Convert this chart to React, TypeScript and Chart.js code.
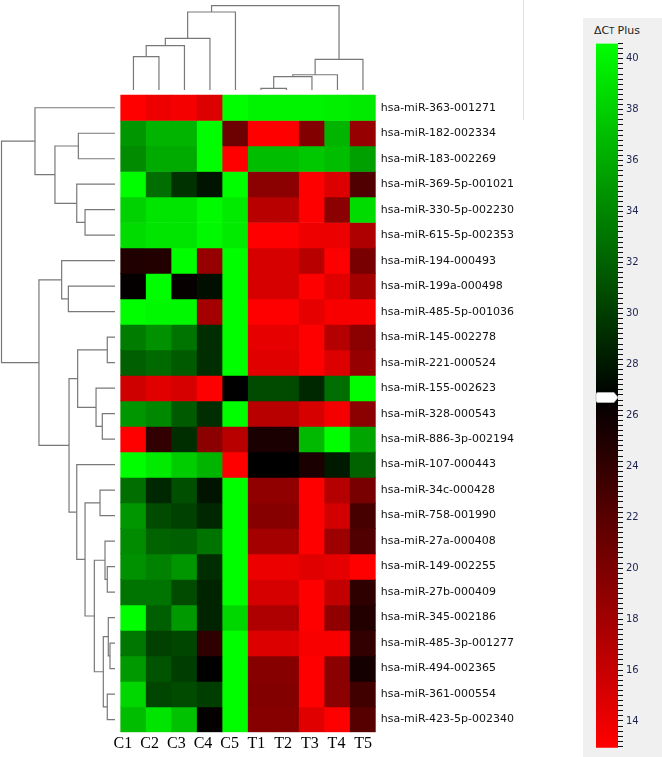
import React, { useEffect, useRef } from "react";
import { Chart, registerables } from "chart.js";

Chart.register(...registerables);

// ---------- data ----------
const colLabels = ["C1", "C2", "C3", "C4", "C5", "T1", "T2", "T3", "T4", "T5"];

const rowLabels = [
  "hsa-miR-363-001271",
  "hsa-miR-182-002334",
  "hsa-miR-183-002269",
  "hsa-miR-369-5p-001021",
  "hsa-miR-330-5p-002230",
  "hsa-miR-615-5p-002353",
  "hsa-miR-194-000493",
  "hsa-miR-199a-000498",
  "hsa-miR-485-5p-001036",
  "hsa-miR-145-002278",
  "hsa-miR-221-000524",
  "hsa-miR-155-002623",
  "hsa-miR-328-000543",
  "hsa-miR-886-3p-002194",
  "hsa-miR-107-000443",
  "hsa-miR-34c-000428",
  "hsa-miR-758-001990",
  "hsa-miR-27a-000408",
  "hsa-miR-149-002255",
  "hsa-miR-27b-000409",
  "hsa-miR-345-002186",
  "hsa-miR-485-3p-001277",
  "hsa-miR-494-002365",
  "hsa-miR-361-000554",
  "hsa-miR-423-5p-002340",
];

// ΔCt values per miRNA, columns C1..C5, T1..T5
const deltaCt = [
  [13.0, 13.8, 13.5, 14.8, 40.5, 40.0, 40.0, 40.0, 39.8, 39.5],
  [34.9, 36.5, 36.5, 40.5, 20.8, 13.0, 13.0, 19.7, 36.5, 18.6],
  [34.3, 36.0, 36.0, 40.5, 13.0, 37.0, 37.0, 37.6, 37.0, 35.4],
  [40.5, 32.7, 29.4, 27.8, 40.5, 19.2, 19.2, 13.0, 14.8, 22.4],
  [38.1, 39.2, 39.2, 40.4, 39.5, 16.7, 16.7, 13.0, 19.2, 38.7],
  [38.7, 39.2, 39.2, 40.3, 39.5, 13.0, 13.0, 13.8, 14.0, 17.3],
  [25.0, 24.8, 40.5, 18.6, 40.5, 15.1, 15.1, 16.7, 13.0, 20.2],
  [26.5, 40.5, 26.4, 27.5, 40.5, 15.1, 15.1, 13.0, 14.6, 17.8],
  [40.5, 40.2, 40.2, 17.8, 40.5, 13.0, 13.0, 14.3, 13.3, 13.3],
  [33.5, 34.6, 33.0, 29.2, 40.5, 14.3, 14.3, 13.0, 17.0, 19.2],
  [31.9, 32.4, 31.6, 29.2, 40.5, 14.6, 14.6, 13.0, 14.8, 18.6],
  [15.6, 14.6, 15.1, 13.0, 26.7, 30.8, 30.8, 28.9, 32.7, 40.5],
  [34.9, 34.1, 31.6, 29.2, 40.5, 16.7, 16.7, 15.1, 13.5, 19.2],
  [13.0, 24.0, 29.2, 19.2, 16.7, 25.3, 25.3, 36.8, 40.5, 35.7],
  [40.5, 39.5, 37.9, 36.5, 13.0, 26.7, 26.7, 25.3, 28.1, 32.1],
  [32.7, 28.9, 31.0, 27.8, 40.5, 18.9, 18.9, 13.0, 17.0, 20.2],
  [34.9, 30.8, 30.2, 28.9, 40.5, 19.4, 19.4, 13.0, 15.4, 22.9],
  [34.3, 32.1, 31.9, 33.0, 40.5, 17.8, 17.8, 13.0, 18.3, 22.4],
  [34.6, 33.8, 34.9, 29.2, 40.5, 14.0, 14.0, 14.6, 14.3, 13.0],
  [33.0, 33.0, 30.8, 28.6, 40.5, 15.1, 15.1, 13.0, 16.2, 24.2],
  [40.5, 31.9, 35.1, 28.6, 38.4, 17.3, 17.3, 13.0, 18.9, 24.8],
  [33.2, 30.2, 30.5, 24.2, 40.5, 14.8, 14.8, 13.3, 13.3, 24.0],
  [35.1, 31.3, 30.0, 26.7, 40.5, 19.4, 19.4, 13.0, 19.2, 25.6],
  [38.4, 30.5, 30.8, 30.0, 40.5, 19.7, 19.7, 13.0, 19.2, 23.2],
  [37.0, 39.2, 37.3, 26.5, 40.5, 19.4, 19.4, 14.6, 13.0, 22.0],
];

// hierarchical clustering merges: [nodeA, nodeB, distance]; leaves 0..n-1, merged nodes n, n+1, ...
const rowLinkage: [number, number, number][] = [
  [1, 2, 0.323],
  [4, 5, 0.264],
  [3, 26, 0.337],
  [25, 27, 0.529],
  [0, 28, 0.705],
  [7, 8, 0.411],
  [6, 30, 0.47],
  [9, 10, 0.068],
  [12, 13, 0.112],
  [11, 33, 0.167],
  [32, 34, 0.329],
  [15, 16, 0.132],
  [18, 19, 0.068],
  [17, 37, 0.088],
  [21, 22, 0.044],
  [20, 39, 0.059],
  [23, 24, 0.068],
  [40, 41, 0.103],
  [38, 42, 0.182],
  [36, 43, 0.264],
  [14, 44, 0.337],
  [35, 45, 0.405],
  [31, 46, 0.67],
  [29, 47, 1.0],
];

const colLinkage: [number, number, number][] = [
  [0, 1, 0.395],
  [10, 2, 0.526],
  [11, 3, 0.613],
  [12, 4, 0.925],
  [5, 6, 0.02],
  [14, 7, 0.158],
  [15, 8, 0.181],
  [16, 9, 0.364],
  [13, 17, 1.0],
];

// colour scale (ΔCt Plus)
const scaleMin = 12.95;
const scaleMid = 26.7;
const scaleMax = 40.6;
const scaleMarker = 26.7;
const scaleLabels = [14, 16, 18, 20, 22, 24, 26, 28, 30, 32, 34, 36, 38, 40];
const scaleMinorStep = 0.2;

// ---------- layout (pixels) ----------
const MAIN_W = 580;
const H = 757;
const AREA_RIGHT = 375.7;
const AREA_BOTTOM = 732.3;
const HEAT_LEFT = 120.7;
const HEAT_TOP = 95;
const ROW_LEAF_X = 115;
const ROW_ROOT_X = 1.5;
const COL_LEAF_Y = 90;
const COL_ROOT_Y = 5.7;
const LABEL_X0 = 122.9;
const LABEL_DX = 26.7;

const nCols = colLabels.length;
const nRows = rowLabels.length;
const colW = (AREA_RIGHT - HEAT_LEFT) / nCols;
const rowH = (AREA_BOTTOM - HEAT_TOP) / nRows;
const X_MIN = -HEAT_LEFT / colW;
const Y_MIN = -HEAT_TOP / rowH;
const xdPx = ROW_LEAF_X - ROW_ROOT_X;
const XD_MAX = ROW_LEAF_X / xdPx;
const XD_MIN = XD_MAX - AREA_RIGHT / xdPx;
const ydPx = COL_LEAF_Y - COL_ROOT_Y;
const YD_MAX = COL_LEAF_Y / ydPx;
const YD_MIN = YD_MAX - AREA_BOTTOM / ydPx;
const XL_MIN = -LABEL_X0 / LABEL_DX;
const XL_MAX = XL_MIN + AREA_RIGHT / LABEL_DX;

function clamp01(t: number) {
  return Math.max(0, Math.min(1, t));
}

function ctColor(v: number) {
  if (v <= scaleMid) {
    const t = clamp01((scaleMid - v) / (scaleMid - scaleMin));
    return `rgb(${Math.round(255 * t)},0,0)`;
  }
  const t = clamp01((v - scaleMid) / (scaleMax - scaleMid));
  return `rgb(0,${Math.round(255 * t)},0)`;
}

function dendroSegments(linkage: [number, number, number][], n: number) {
  const pos: number[] = [];
  const hgt: number[] = [];
  for (let i = 0; i < n; i++) {
    pos[i] = i + 0.5;
    hgt[i] = 0;
  }
  const segs: { h: number; p: number }[][] = [];
  linkage.forEach(([a, b, h], k) => {
    const id = n + k;
    pos[id] = (pos[a] + pos[b]) / 2;
    hgt[id] = h;
    segs.push([
      { h: hgt[a], p: pos[a] },
      { h, p: pos[a] },
      { h, p: pos[b] },
      { h: hgt[b], p: pos[b] },
    ]);
  });
  return segs;
}

export default function App() {
  const mainRef = useRef<HTMLCanvasElement>(null);
  const barRef = useRef<HTMLCanvasElement>(null);

  useEffect(() => {
    document.body.style.margin = "0";

    const lineStyle = {
      borderColor: "#787878",
      borderWidth: 1.2,
      pointRadius: 0,
      fill: false,
      tension: 0,
    };

    const rowSegs = dendroSegments(rowLinkage, nRows);
    const colSegs = dendroSegments(colLinkage, nCols);

    const datasets: any[] = [
      ...deltaCt.map((vals, r) => ({
        type: "bar",
        data: vals.map((_v, j) => ({ x: j + 0.5, y: [r, r + 1] })),
        backgroundColor: vals.map(ctColor),
        borderWidth: 0,
        grouped: false,
        barPercentage: 1,
        categoryPercentage: 1,
        xAxisID: "x",
        yAxisID: "y",
      })),
      ...rowSegs.map((seg) => ({
        type: "line",
        data: seg.map((s) => ({ x: s.h, y: s.p })),
        xAxisID: "xd",
        yAxisID: "y",
        ...lineStyle,
      })),
      ...colSegs.map((seg) => ({
        type: "line",
        data: seg.map((s) => ({ x: s.p, y: s.h })),
        xAxisID: "x",
        yAxisID: "yd",
        ...lineStyle,
      })),
    ];

    const main = new Chart(mainRef.current as HTMLCanvasElement, {
      type: "bar",
      data: { datasets },
      options: {
        animation: false,
        responsive: false,
        maintainAspectRatio: false,
        events: [],
        layout: { padding: 0 },
        plugins: { legend: { display: false }, tooltip: { enabled: false } },
        scales: {
          x: { type: "linear", display: false, min: X_MIN, max: nCols, offset: false },
          xl: {
            type: "linear",
            position: "bottom",
            min: XL_MIN,
            max: XL_MAX,
            offset: false,
            grid: { display: false, drawTicks: false },
            border: { display: false },
            afterBuildTicks: (s: any) => {
              s.ticks = colLabels.map((_c, j) => ({ value: j }));
            },
            afterFit: (s: any) => {
              s.height = H - AREA_BOTTOM;
              s.paddingLeft = 0;
              s.paddingRight = 0;
            },
            ticks: {
              autoSkip: false,
              maxRotation: 0,
              padding: 2,
              color: "#000",
              font: { family: '"Liberation Serif", serif', size: 16 },
              callback: (_v: any, i: number) => colLabels[i],
            },
          },
          xd: { type: "linear", display: false, reverse: true, min: XD_MIN, max: XD_MAX, offset: false },
          y: {
            type: "linear",
            position: "right",
            reverse: true,
            min: Y_MIN,
            max: nRows,
            grid: { display: false, drawTicks: false },
            border: { display: false },
            afterBuildTicks: (s: any) => {
              s.ticks = rowLabels.map((_r, i) => ({ value: i + 0.5 }));
            },
            afterFit: (s: any) => {
              s.width = MAIN_W - AREA_RIGHT;
              s.paddingTop = 0;
              s.paddingBottom = 0;
            },
            ticks: {
              autoSkip: false,
              padding: 5,
              color: "#111",
              font: { family: '"DejaVu Sans", sans-serif', size: 11 },
              callback: (_v: any, i: number) => rowLabels[i],
            },
          },
          yd: { type: "linear", display: false, min: YD_MIN, max: YD_MAX },
        },
      } as any,
    });

    const minorTicks: number[] = [];
    for (let k = Math.ceil(scaleMin / scaleMinorStep); k * scaleMinorStep <= scaleMax + 1e-9; k++) {
      minorTicks.push(Math.round(k * scaleMinorStep * 10) / 10);
    }

    const markerPlugin = {
      id: "marker",
      afterDatasetsDraw(chart: any) {
        const { ctx, chartArea, scales } = chart;
        const y = scales.y.getPixelForValue(scaleMarker);
        const l = chartArea.left;
        const r = chartArea.right;
        ctx.save();
        ctx.beginPath();
        ctx.moveTo(l + 2, y - 5);
        ctx.lineTo(r - 4, y - 5);
        ctx.lineTo(r, y);
        ctx.lineTo(r - 4, y + 5);
        ctx.lineTo(l + 2, y + 5);
        ctx.quadraticCurveTo(l, y + 5, l, y + 3);
        ctx.lineTo(l, y - 3);
        ctx.quadraticCurveTo(l, y - 5, l + 2, y - 5);
        ctx.closePath();
        ctx.fillStyle = "#ffffff";
        ctx.fill();
        ctx.strokeStyle = "#b5b5b5";
        ctx.lineWidth = 0.8;
        ctx.stroke();
        ctx.restore();
      },
    };

    const cb = new Chart(barRef.current as HTMLCanvasElement, {
      type: "bar",
      data: {
        labels: ["ΔCT Plus"],
        datasets: [
          {
            data: [[scaleMin, scaleMax]],
            backgroundColor: (c: any) => {
              const ch = c.chart;
              const ys = ch.scales && ch.scales.y;
              if (!ch.chartArea || !ys) return "#000";
              const y0 = ys.getPixelForValue(scaleMin);
              const y1 = ys.getPixelForValue(scaleMax);
              const g = ch.ctx.createLinearGradient(0, y0, 0, y1);
              g.addColorStop(0, "rgb(255,0,0)");
              g.addColorStop((scaleMid - scaleMin) / (scaleMax - scaleMin), "rgb(0,0,0)");
              g.addColorStop(1, "rgb(0,255,0)");
              return g;
            },
            borderWidth: 0,
            barPercentage: 1,
            categoryPercentage: 1,
          } as any,
        ],
      },
      options: {
        animation: false,
        responsive: false,
        maintainAspectRatio: false,
        events: [],
        layout: { padding: { left: 13, top: 43.5, bottom: H - 747.7, right: 0 } },
        plugins: { legend: { display: false }, tooltip: { enabled: false } },
        scales: {
          x: { display: false },
          y: {
            position: "right",
            min: scaleMin,
            max: scaleMax,
            grid: { drawOnChartArea: false, drawTicks: true, tickLength: 5, color: "#111", lineWidth: 1 },
            border: { display: false },
            afterBuildTicks: (s: any) => {
              s.ticks = minorTicks.map((v) => ({ value: v }));
            },
            afterFit: (s: any) => {
              s.width = 44;
              s.paddingTop = 0;
              s.paddingBottom = 0;
            },
            ticks: {
              autoSkip: false,
              padding: 3,
              color: "#1e2450",
              font: { family: '"DejaVu Sans", sans-serif', size: 10 },
              callback: (v: any) => {
                const n = Number(v);
                const hit = scaleLabels.find((L) => Math.abs(L - n) < 1e-6);
                return hit !== undefined ? String(hit) : "";
              },
            },
          },
        },
      } as any,
      plugins: [markerPlugin],
    });

    return () => {
      main.destroy();
      cb.destroy();
    };
  }, []);

  return (
    <div
      style={{
        position: "absolute",
        left: 0,
        top: 0,
        width: 662,
        height: H,
        background: "#fff",
        overflow: "hidden",
      }}
    >
      <div style={{ position: "absolute", left: 523, top: 0, width: 1, height: 120, background: "#e2e2e2" }} />
      <div style={{ position: "absolute", left: 583, top: 18, width: 79, height: H - 18, background: "#f0f0f0" }} />
      <div
        style={{
          position: "absolute",
          left: 594,
          top: 24,
          font: '11px "DejaVu Sans", sans-serif',
          lineHeight: "13px",
          color: "#222",
          whiteSpace: "nowrap",
        }}
      >
        ΔC<span style={{ fontSize: 8 }}>T</span> Plus
      </div>
      <canvas ref={mainRef} width={MAIN_W} height={H} style={{ position: "absolute", left: 0, top: 0 }} />
      <canvas ref={barRef} width={79} height={H} style={{ position: "absolute", left: 583, top: 0 }} />
    </div>
  );
}
